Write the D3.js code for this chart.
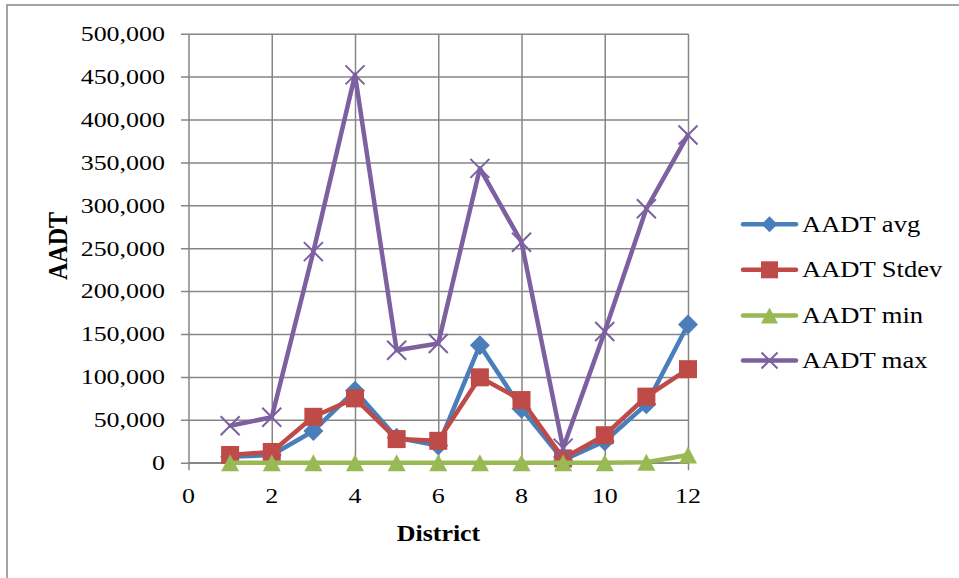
<!DOCTYPE html>
<html>
<head>
<meta charset="utf-8">
<script src="https://cdn.jsdelivr.net/npm/d3@7"></script>
<style>
  html, body { margin: 0; padding: 0; background: #fff; }
  svg { display: block; }
  text { font-family: "Liberation Serif", "Times New Roman", serif; fill: #000; }
</style>
</head>
<body>
<svg id="chart" width="959" height="578"></svg>
<script>
// ---- data ----
const districts = [1, 2, 3, 4, 5, 6, 7, 8, 9, 10, 11, 12];
const aadtAvg   = [7000, 9000, 37000, 84000, 29000, 20000, 137000, 63000, 3000, 25000, 68000, 161000];
const aadtStdev = [9000, 12500, 53500, 75000, 27500, 25500, 99500, 73000, 5000, 32000, 77000, 109000];
const aadtMin   = [0, 0, 0, 0, 0, 0, 0, 0, 0, 0, 500, 9000];
const aadtMax   = [43000, 53000, 246000, 452000, 131000, 139000, 343000, 257000, 17000, 153000, 296000, 382000];
const seriesNames = ["AADT avg", "AADT Stdev", "AADT min", "AADT max"];
const xTicks = [0, 2, 4, 6, 8, 10, 12];
const yTicks = [0, 50000, 100000, 150000, 200000, 250000, 300000, 350000, 400000, 450000, 500000];
const xTitle = "District";
const yTitle = "AADT";

const colors = ["#4A7EBB", "#BE4B48", "#98B954", "#7D60A0"];
const markers = ["diamond", "square", "triangle", "x"];
const seriesValues = [aadtAvg, aadtStdev, aadtMin, aadtMax];

const svg = d3.select("#chart");
const SX = 1.18; // horizontal stretch of text in the reference

// outer frame
svg.append("rect")
  .attr("x", 7).attr("y", 5).attr("width", 960).attr("height", 600)
  .attr("fill", "none").attr("stroke", "#868686").attr("stroke-width", 1.5);

const x = d3.scaleLinear().domain([0, 12]).range([188.5, 688]);
const y = d3.scaleLinear().domain([0, 500000]).range([462.7, 33.7]);
const gridColor = "#868686";
const TICK = 7.5;

// horizontal gridlines + y ticks
const yAxis = d3.axisLeft(y).tickValues(yTicks).tickSize(TICK + (688 - 188.5)).tickFormat(d3.format(","));
const gy = svg.append("g").attr("transform", `translate(${688},0)`).call(yAxis);
gy.select(".domain").remove();
gy.selectAll(".tick line").attr("stroke", gridColor).attr("stroke-width", 1.5);
gy.selectAll(".tick text").remove();

// vertical gridlines + x ticks
const xAxis = d3.axisBottom(x).tickValues(xTicks).tickSize(-(462.7 - 33.7)).tickFormat(d3.format("d"));
const gx = svg.append("g").attr("transform", `translate(0,${462.7})`).call(xAxis);
gx.select(".domain").remove();
gx.selectAll(".tick line").attr("stroke", gridColor).attr("stroke-width", 1.5).attr("y2", TICK).attr("y1", -(462.7 - 33.7));
gx.selectAll(".tick text").remove();
// x axis baseline
svg.append("line").attr("x1", x(0)).attr("x2", x(12)).attr("y1", y(0)).attr("y2", y(0))
  .attr("stroke", gridColor).attr("stroke-width", 1.5);

// tick labels (stretched)
svg.append("g").selectAll("text").data(yTicks).join("text")
  .attr("transform", d => `translate(165,${y(d) + 7.3}) scale(${SX},1)`)
  .attr("text-anchor", "end").attr("font-size", 22)
  .text(d => d3.format(",")(d));
svg.append("g").selectAll("text").data(xTicks).join("text")
  .attr("transform", d => `translate(${x(d)},${503}) scale(${SX},1)`)
  .attr("text-anchor", "middle").attr("font-size", 22)
  .text(d => d3.format("d")(d));

// axis titles
svg.append("text")
  .attr("transform", `translate(438.5,541) scale(1.08,1)`)
  .attr("text-anchor", "middle").attr("font-size", 24).attr("font-weight", "bold")
  .text(xTitle);
svg.append("text")
  .attr("transform", `translate(66.5,246) scale(1.13,1) rotate(-90)`)
  .attr("text-anchor", "middle").attr("font-size", 24).attr("font-weight", "bold")
  .text(yTitle);

// marker drawing
function drawMarker(g, type, cx, cy, color) {
  if (type === "diamond") {
    const r = 10;
    g.append("path").attr("d", `M${cx},${cy - r}L${cx + r},${cy}L${cx},${cy + r}L${cx - r},${cy}Z`).attr("fill", color);
  } else if (type === "square") {
    const s = 18;
    g.append("rect").attr("x", cx - s / 2).attr("y", cy - s / 2).attr("width", s).attr("height", s).attr("fill", color);
  } else if (type === "triangle") {
    const w = 18, h = 17;
    g.append("path").attr("d", `M${cx},${cy - h / 2}L${cx + w / 2},${cy + h / 2}L${cx - w / 2},${cy + h / 2}Z`).attr("fill", color);
  } else if (type === "x") {
    const r = 9.5;
    g.append("path").attr("d", `M${cx - r},${cy - r}L${cx + r},${cy + r}M${cx - r},${cy + r}L${cx + r},${cy - r}`)
      .attr("stroke", color).attr("stroke-width", 2).attr("fill", "none");
  }
}

const line = d3.line().x(d => x(d[0])).y(d => y(d[1]));
seriesValues.forEach((vals, i) => {
  const pts = districts.map((d, j) => [d, vals[j]]);
  const g = svg.append("g");
  g.append("path").datum(pts).attr("d", line)
    .attr("fill", "none").attr("stroke", colors[i]).attr("stroke-width", 4.5)
    .attr("stroke-linejoin", "round").attr("stroke-linecap", "round");
  pts.forEach(p => drawMarker(g, markers[i], x(p[0]), y(p[1]), colors[i]));
});

// legend
const legY = [224.3, 269.8, 315.5, 360.5];
seriesNames.forEach((name, i) => {
  const g = svg.append("g");
  g.append("line").attr("x1", 743).attr("x2", 796).attr("y1", legY[i]).attr("y2", legY[i])
    .attr("stroke", colors[i]).attr("stroke-width", 4.5).attr("stroke-linecap", "round");
  const sc = 0.85;
  if (markers[i] === "diamond") {
    g.append("path").attr("d", `M769.5,${legY[i] - 8}L777.5,${legY[i]}L769.5,${legY[i] + 8}L761.5,${legY[i]}Z`).attr("fill", colors[i]);
  } else if (markers[i] === "square") {
    g.append("rect").attr("x", 761).attr("y", legY[i] - 8.5).attr("width", 17).attr("height", 17).attr("fill", colors[i]);
  } else if (markers[i] === "triangle") {
    g.append("path").attr("d", `M769.5,${legY[i] - 8}L778,${legY[i] + 8}L761,${legY[i] + 8}Z`).attr("fill", colors[i]);
  } else {
    g.append("path").attr("d", `M761.5,${legY[i] - 8}L777.5,${legY[i] + 8}M761.5,${legY[i] + 8}L777.5,${legY[i] - 8}`)
      .attr("stroke", colors[i]).attr("stroke-width", 2);
  }
  g.append("text")
    .attr("transform", `translate(802,${legY[i] + 7.5}) scale(${SX},1)`)
    .attr("font-size", 22.5)
    .text(name);
});
</script>
</body>
</html>
